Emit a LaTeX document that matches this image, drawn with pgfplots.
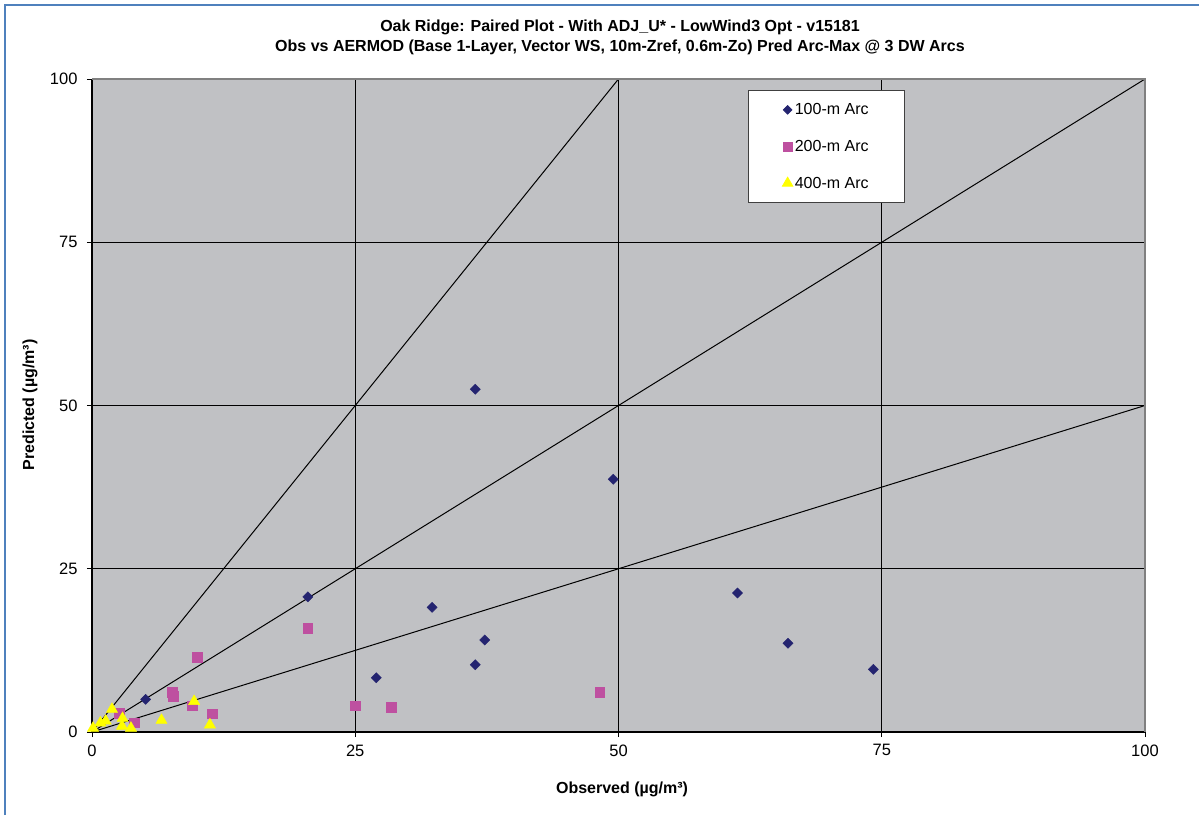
\documentclass[border=0pt]{standalone}
\usepackage{pgfplots}
\pgfplotsset{compat=1.18}
\usepackage{fontspec}
\setmainfont{Liberation Sans}
\definecolor{plotbg}{RGB}{192,193,196}
\definecolor{navyd}{RGB}{36,36,112}
\definecolor{magd}{RGB}{190,80,160}
\definecolor{yel}{RGB}{255,255,0}
\definecolor{frameblue}{RGB}{79,129,189}
\definecolor{bordergray}{RGB}{128,128,128}
\begin{document}
\begin{tikzpicture}
\useasboundingbox (-92pt,-83pt) rectangle (1107pt,732pt);
\begin{axis}[
  at={(0,0)}, anchor=south west, scale only axis,
  width=1053pt, height=653pt,
  xmin=0, xmax=100, ymin=0, ymax=100,
  xtick={0,25,50,75,100}, ytick={0,25,50,75,100},
  axis lines*=left, axis line style={black, line width=1.4pt, -},
  tick align=outside, major tick length=5pt,
  tick style={black, line width=0.8pt},
  axis background/.style={fill=plotbg},
  grid=major, grid style={black, line width=0.8pt},
  ticklabel style={font=\fontsize{16.5}{18}\selectfont},
  /pgf/number format/assume math mode=true,
  xticklabel style={yshift=-4pt},
  yticklabel style={xshift=-6pt},
  clip=false,
  legend cell align=left,
  legend style={at={(0.623,0.983)}, anchor=north west, draw=black!75,
    line width=0.8pt, fill=white, font=\fontsize{16}{18}\selectfont,
    inner xsep=34pt, inner ysep=11pt, row sep=20pt},
]
\addplot[black, line width=1pt, forget plot] coordinates {(0,0) (50,100)};
\addplot[black, line width=1pt, forget plot] coordinates {(0,0) (100,100)};
\addplot[black, line width=1pt, forget plot] coordinates {(0,0) (100,50)};
\addplot[only marks, mark=square*, mark size=3.6pt, mark options={rotate=45, fill=navyd, draw=navyd},
  legend image post style={mark size=3pt}]
coordinates {
(5.1,5.0) (20.5,20.7) (27.0,8.3) (32.3,19.1) (36.4,52.5) (36.4,10.3)
(37.3,14.1) (49.5,38.7) (61.3,21.3) (66.1,13.6) (74.2,9.6)
};
\addlegendentry{100-m Arc}
\addplot[only marks, mark=square*, mark size=4.8pt, mark options={fill=magd, draw=magd},
  legend image post style={mark size=4.5pt}]
coordinates {
(2.6,2.9) (4.0,1.4) (7.6,6.1) (7.7,5.5) (9.5,4.0) (10.0,11.5) (11.4,2.8)
(20.5,15.9) (25.0,4.0) (28.4,3.8) (48.2,6.1)
};
\addlegendentry{200-m Arc}
\addplot[only marks, mark=triangle*, mark size=6.5pt, mark options={fill=yel, draw=yel},
  legend image post style={mark size=6pt}]
coordinates {
(0.1,0.6) (0.8,1.4) (1.3,1.7) (1.9,3.5) (2.9,2.1) (2.85,0.9) (3.7,0.6)
(6.6,1.8) (9.7,4.7) (11.2,1.1)
};
\addlegendentry{400-m Arc}
\draw[bordergray, line width=1.2pt] (rel axis cs:0,1) -- (rel axis cs:1,1) -- (rel axis cs:1,0);
\end{axis}
\node[font=\fontsize{16}{20}\selectfont\bfseries, align=center] at (528pt,695pt)
  {Oak Ridge: Paired Plot - With ADJ\_U* - LowWind3 Opt - v15181\\
   Obs vs AERMOD (Base 1-Layer, Vector WS, 10m-Zref, 0.6m-Zo) Pred Arc-Max @ 3 DW Arcs};
\node[font=\fontsize{16}{18}\selectfont\bfseries] at (530pt,-57pt) {Observed (µg/m³)};
\node[font=\fontsize{16}{18}\selectfont\bfseries, rotate=90] at (-62pt,327pt) {Predicted (µg/m³)};
\draw[frameblue, line width=2.5pt] (-87pt,-83pt) -- (-87pt,727pt) -- (1107pt,727pt);
\end{tikzpicture}
\end{document}
